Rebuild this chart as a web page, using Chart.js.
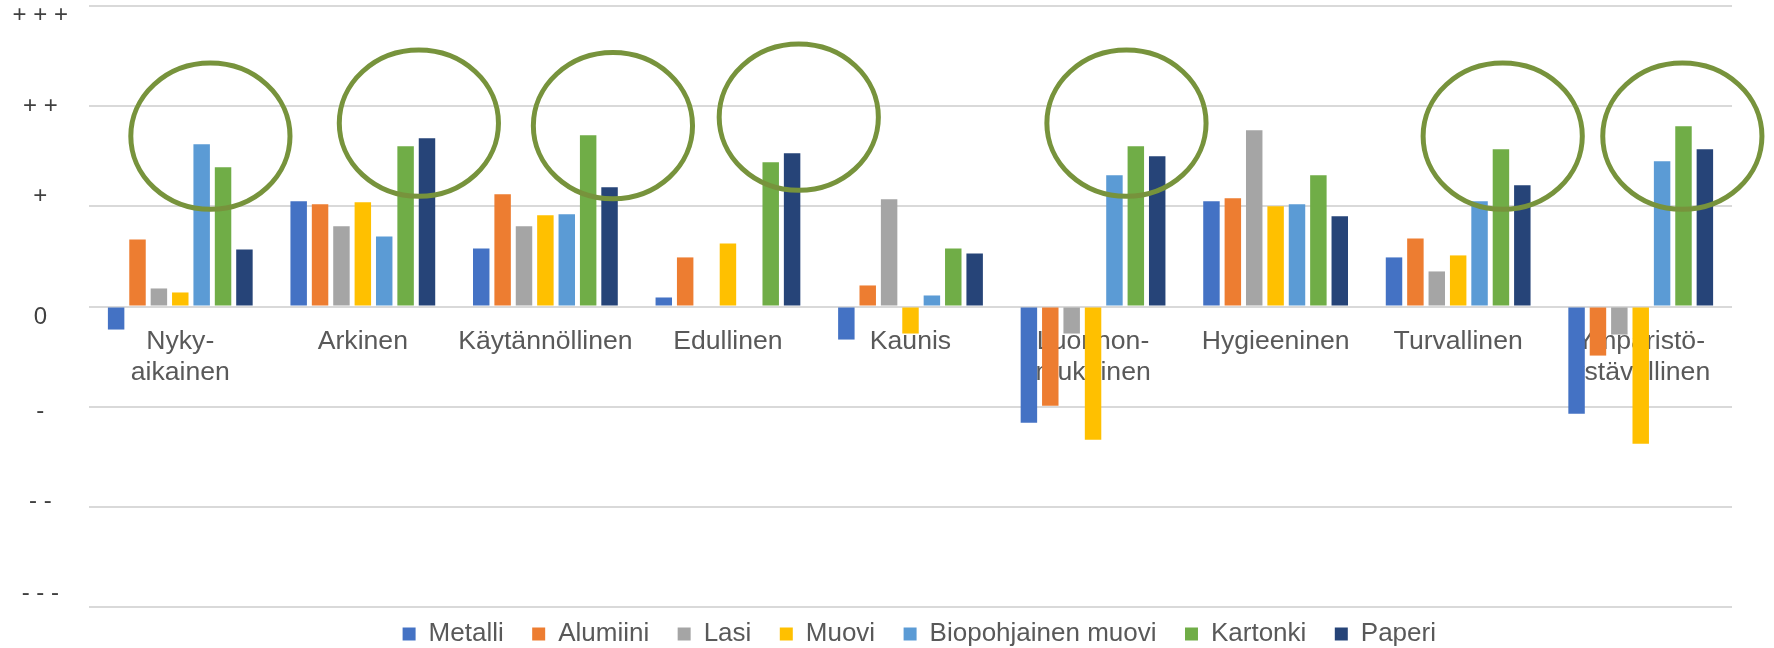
<!DOCTYPE html>
<html>
<head>
<meta charset="utf-8">
<script src="https://cdn.jsdelivr.net/npm/chart.js@4.4.1/dist/chart.umd.min.js"></script>
<style>
  body { margin: 0; background: #fff; }
  #wrap { width: 1774px; height: 648px; }
</style>
</head>
<body>
<div id="wrap"><canvas id="myChart" width="1774" height="648"></canvas></div>
<script>
// ominaisuudet (x-akseli)
const kategoriat = [['Nyky-', 'aikainen'], 'Arkinen', 'Käytännöllinen', 'Edullinen', 'Kaunis',
    ['Luonnon-', 'mukainen'], 'Hygieeninen', 'Turvallinen', ['Ympäristö-', 'ystävällinen']];

// materiaalien arviot, asteikko -3 ... +3
const metalli   = [-0.23, 1.05, 0.58, 0.09, -0.33, -1.16, 1.05, 0.49, -1.07];
const alumiini  = [0.67, 1.02, 1.12, 0.49, 0.21, -0.99, 1.08, 0.68, -0.49];
const lasi      = [0.18, 0.80, 0.80, null, 1.07, -0.27, 1.76, 0.35, -0.28];
const muovi     = [0.14, 1.04, 0.91, 0.63, -0.27, -1.33, 1.00, 0.51, -1.37];
const biomuovi  = [1.62, 0.70, 0.92, null, 0.11, 1.31, 1.02, 1.05, 1.45];
const kartonki  = [1.39, 1.60, 1.71, 1.44, 0.58, 1.60, 1.31, 1.57, 1.80];
const paperi    = [0.57, 1.68, 1.19, 1.53, 0.53, 1.50, 0.90, 1.21, 1.57];

// y-akselin tekstit arvoille -3 ... 3
const asteikko = ['- - -', '- -', '-', '0', '+', '+ +', '+ + +'];

// vihreät ympyrät: keskipiste kategoria-akselilla (desimaali) ja arvoakselilla
const ympyraX = [0.165, 1.307, 2.37, 3.388, 5.183, 7.244, 8.228];
const ympyraY = [1.70, 1.83, 1.805, 1.89, 1.83, 1.70, 1.70];

// y-tekstien pystysiirto pikseleinä (alkuperäisessä tekstit eivät ole aivan viivojen kohdalla)
const tekstinSiirto = [-14, -5, 5, 11, -10, 0, 9];

const ympyrat = {
    id: 'ympyrat',
    afterDatasetsDraw(chart) {
        const { ctx, scales: { x, y } } = chart;
        const rx = x.getPixelForValue(0.436) - x.getPixelForValue(0);
        const ry = y.getPixelForValue(0) - y.getPixelForValue(0.73);
        ctx.save();
        ctx.strokeStyle = '#77933C';
        ctx.lineWidth = 5;
        ympyraX.forEach((cx, i) => {
            ctx.beginPath();
            ctx.ellipse(x.getPixelForValue(cx), y.getPixelForValue(ympyraY[i]), rx, ry, 0, 0, Math.PI * 2);
            ctx.stroke();
        });
        ctx.restore();
    }
};

// selite hieman oikealle kuten alkuperäisessä
const seliteSiirto = {
    id: 'seliteSiirto',
    afterLayout(chart) {
        chart.legend.left += 16;
        chart.legend.right += 16;
    }
};

Chart.defaults.font.family = "'Liberation Sans', Arial, sans-serif";

function sarja(nimi, arvot, vari) {
    return {
        label: nimi,
        data: arvot,
        backgroundColor: vari,
        borderWidth: 0,
        barPercentage: 0.77,
        categoryPercentage: 0.82
    };
}

const ctx = document.getElementById('myChart').getContext('2d');
new Chart(ctx, {
    type: 'bar',
    data: {
        labels: kategoriat,
        datasets: [
            sarja('Metalli', metalli, '#4472C4'),
            sarja('Alumiini', alumiini, '#ED7D31'),
            sarja('Lasi', lasi, '#A5A5A5'),
            sarja('Muovi', muovi, '#FFC000'),
            sarja('Biopohjainen muovi', biomuovi, '#5B9BD5'),
            sarja('Kartonki', kartonki, '#70AD47'),
            sarja('Paperi', paperi, '#264478')
        ]
    },
    options: {
        responsive: false,
        devicePixelRatio: 1,
        animation: false,
        layout: { padding: { top: 6, right: 42, bottom: -9, left: 0 } },
        scales: {
            x: {
                position: { y: 0 },
                z: 1,
                grid: { display: false, drawTicks: false },
                border: { display: false },
                ticks: {
                    padding: 19,
                    color: '#595959',
                    font: { size: 26.6, lineHeight: 1.19 },
                    maxRotation: 0,
                    autoSkip: false
                }
            },
            y: {
                min: -3,
                max: 3,
                grid: { color: '#D9D9D9', lineWidth: 2, drawTicks: false },
                border: { display: false },
                ticks: {
                    stepSize: 1,
                    padding: 21,
                    crossAlign: 'center',
                    color: '#404040',
                    font: function(c) {
                        const s = c.tick ? tekstinSiirto[c.tick.value + 3] : 0;
                        return { size: 24, lineHeight: Math.max(1, Math.abs(s) * 2) + 'px' };
                    },
                    callback: function(value) {
                        const t = asteikko[value + 3];
                        const s = tekstinSiirto[value + 3];
                        if (s > 0) return ['', t];
                        if (s < 0) return [t, ''];
                        return t;
                    }
                },
                afterFit: function(scale) {
                    scale.width = 89;
                    scale.paddingTop = 0;
                    scale.paddingBottom = 0;
                }
            }
        },
        plugins: {
            tooltip: { enabled: false },
            legend: {
                position: 'bottom',
                fullSize: false,
                labels: {
                    boxWidth: 13,
                    boxHeight: 13,
                    padding: 14,
                    color: '#595959',
                    font: { size: 26 },
                    generateLabels: function(chart) {
                        return Chart.defaults.plugins.legend.labels.generateLabels(chart)
                            .map(l => Object.assign(l, { text: l.text + '  ' }));
                    }
                }
            }
        }
    },
    plugins: [ympyrat, seliteSiirto]
});
</script>
</body>
</html>
